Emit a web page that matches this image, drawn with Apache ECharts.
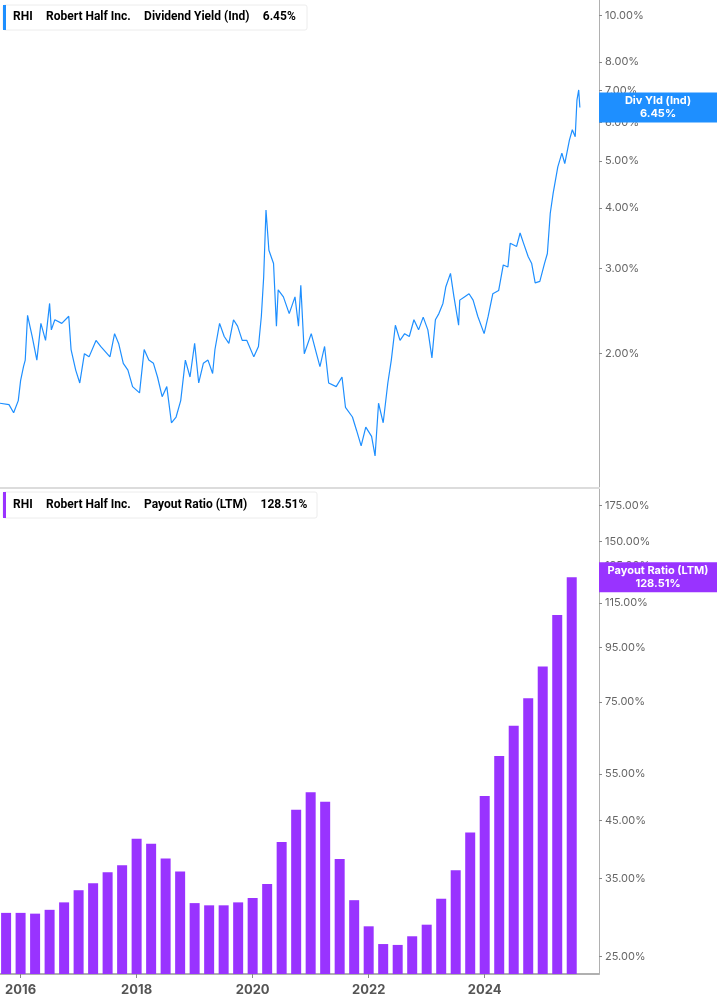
<!DOCTYPE html>
<html lang="en">
<head>
    <meta charset="UTF-8">
    <title>RHI Dividend Yield / Payout Ratio</title>
    <script src="https://cdn.jsdelivr.net/npm/echarts@6.0.0/dist/echarts.min.js"></script>
    <style>
        html, body { margin: 0; padding: 0; background: #fff; }
        #main { width: 717px; height: 1005px; }
    </style>
</head>
<body>
<div id="main"></div>
<script type="text/javascript">
    // dividend yield (%), dates as decimal years
    const yieldDates = [2015.645, 2015.80, 2015.88, 2015.96, 2016.00, 2016.05, 2016.08, 2016.12, 2016.20, 2016.28, 2016.35, 2016.43, 2016.50, 2016.53, 2016.59, 2016.71, 2016.83, 2016.87, 2016.95, 2017.02, 2017.10, 2017.18, 2017.30, 2017.38, 2017.54, 2017.62, 2017.69, 2017.77, 2017.85, 2017.93, 2018.05, 2018.13, 2018.21, 2018.29, 2018.36, 2018.44, 2018.52, 2018.60, 2018.68, 2018.76, 2018.84, 2018.92, 2019.00, 2019.07, 2019.15, 2019.23, 2019.31, 2019.35, 2019.43, 2019.51, 2019.59, 2019.67, 2019.74, 2019.82, 2019.90, 2020.02, 2020.10, 2020.15, 2020.19, 2020.23, 2020.28, 2020.36, 2020.41, 2020.44, 2020.53, 2020.63, 2020.73, 2020.79, 2020.83, 2020.89, 2021.01, 2021.10, 2021.16, 2021.24, 2021.31, 2021.44, 2021.54, 2021.60, 2021.72, 2021.79, 2021.87, 2021.95, 2022.05, 2022.11, 2022.17, 2022.25, 2022.33, 2022.39, 2022.46, 2022.54, 2022.62, 2022.70, 2022.78, 2022.86, 2022.94, 2023.02, 2023.09, 2023.15, 2023.21, 2023.28, 2023.33, 2023.41, 2023.47, 2023.55, 2023.57, 2023.65, 2023.73, 2023.80, 2023.88, 2023.99, 2024.06, 2024.14, 2024.24, 2024.32, 2024.40, 2024.44, 2024.55, 2024.61, 2024.67, 2024.75, 2024.81, 2024.87, 2024.95, 2025.03, 2025.08, 2025.13, 2025.18, 2025.26, 2025.33, 2025.38, 2025.46, 2025.51, 2025.56, 2025.59, 2025.62, 2025.64];
    const yieldValues = [1.58, 1.57, 1.51, 1.60, 1.76, 1.88, 1.94, 2.40, 2.17, 1.94, 2.31, 2.13, 2.54, 2.24, 2.35, 2.31, 2.39, 2.04, 1.85, 1.74, 2.00, 1.97, 2.13, 2.07, 1.97, 2.20, 2.10, 1.91, 1.85, 1.71, 1.66, 2.04, 1.94, 1.91, 1.79, 1.63, 1.71, 1.44, 1.48, 1.60, 1.94, 1.79, 2.10, 1.74, 1.91, 1.94, 1.82, 2.04, 2.31, 2.17, 2.10, 2.35, 2.28, 2.13, 2.13, 1.97, 2.07, 2.39, 2.88, 3.96, 3.27, 3.07, 2.28, 2.71, 2.62, 2.42, 2.62, 2.28, 2.77, 2.00, 2.20, 2.00, 1.88, 2.07, 1.74, 1.71, 1.79, 1.55, 1.48, 1.39, 1.29, 1.41, 1.35, 1.23, 1.58, 1.44, 1.74, 1.94, 2.29, 2.13, 2.20, 2.17, 2.35, 2.24, 2.38, 2.24, 1.96, 2.35, 2.42, 2.54, 2.75, 2.93, 2.62, 2.29, 2.58, 2.62, 2.66, 2.58, 2.39, 2.20, 2.39, 2.66, 2.70, 3.05, 3.02, 3.38, 3.33, 3.55, 3.38, 3.17, 3.07, 2.80, 2.82, 3.07, 3.22, 3.90, 4.29, 4.86, 5.19, 4.94, 5.52, 5.80, 5.61, 6.68, 7.01, 6.45];

    // payout ratio LTM (%), quarterly
    const payoutDates = [2015.75, 2016.00, 2016.25, 2016.50, 2016.75, 2017.00, 2017.25, 2017.50, 2017.75, 2018.00, 2018.25, 2018.50, 2018.75, 2019.00, 2019.25, 2019.50, 2019.75, 2020.00, 2020.25, 2020.50, 2020.75, 2021.00, 2021.25, 2021.50, 2021.75, 2022.00, 2022.25, 2022.50, 2022.75, 2023.00, 2023.25, 2023.50, 2023.75, 2024.00, 2024.25, 2024.50, 2024.75, 2025.00, 2025.25, 2025.50];
    const payoutValues = [30.2, 30.2, 30.1, 30.6, 31.6, 33.3, 34.3, 36.0, 37.1, 41.6, 40.7, 38.2, 36.1, 31.5, 31.2, 31.2, 31.6, 32.2, 34.2, 41.0, 47.1, 50.8, 48.8, 38.1, 31.9, 28.5, 26.4, 26.3, 27.3, 28.7, 32.1, 36.3, 42.7, 50.0, 59.4, 67.7, 76.2, 87.4, 109.2, 128.51];

    const yieldTicks = [2, 3, 4, 5, 6, 7, 8, 10];
    const payoutTicks = [25, 35, 45, 55, 75, 95, 115, 135, 150, 175];
    const yearTicks = [2016, 2018, 2020, 2022, 2024];

    const lg = v => Math.log10(v);
    const pct = v => Math.pow(10, v).toFixed(2) + '%';
    const xMin = 2015.645, xMax = 2025.97;

    let chart = echarts.init(document.getElementById('main'))

    function yAxisFor(idx, ticks, min, max) {
        return {
            type: 'value', gridIndex: idx, position: 'right',
            min: lg(min), max: lg(max),
            axisLine: { show: true, lineStyle: { color: '#b0b0b0' } },
            axisTick: { show: true, length: 3, customValues: ticks.map(lg), lineStyle: { color: '#888' } },
            axisLabel: {
                customValues: ticks.map(lg), formatter: pct, margin: 6,
                color: '#666', fontSize: 11, fontFamily: 'Inter'
            },
            splitLine: { show: false }
        }
    }

    const titleRich = {
        a: { fontWeight: 'bold', color: '#222', fontSize: 12, fontFamily: 'Roboto' }
    }

    chart.setOption({
        animation: false,
        grid: [
            { left: 0, right: 118, top: 0, height: 487 },
            { left: 0, right: 118, top: 489, bottom: 31 }
        ],
        xAxis: [
            { type: 'value', gridIndex: 0, min: xMin, max: xMax, show: false },
            {
                type: 'value', gridIndex: 1, min: xMin, max: xMax,
                axisLine: { show: true, lineStyle: { color: '#b0b0b0', width: 2 } },
                axisTick: { show: true, length: 4, customValues: yearTicks, lineStyle: { color: '#888' } },
                axisLabel: {
                    customValues: yearTicks, formatter: v => String(v),
                    color: '#555', fontSize: 13, fontWeight: 'bold', fontFamily: 'Inter', margin: 10
                },
                splitLine: { show: false }
            }
        ],
        yAxis: [
            yAxisFor(0, yieldTicks, 1.061, 10.75),
            yAxisFor(1, payoutTicks, 23.2, 188)
        ],
        series: [
            {
                type: 'line', xAxisIndex: 0, yAxisIndex: 0, symbol: 'none',
                lineStyle: { color: '#1e8fff', width: 1.2 },
                data: yieldDates.map((d, i) => [d, lg(yieldValues[i])])
            },
            {
                type: 'bar', xAxisIndex: 1, yAxisIndex: 1, barWidth: 10,
                itemStyle: { color: '#9933ff' },
                data: payoutDates.map((d, i) => [d, lg(payoutValues[i])])
            }
        ]
    });

    // value boxes on the right axis, placed from the axis scale
    const yY = chart.convertToPixel({ yAxisIndex: 0 }, lg(6.45));
    const pY = chart.convertToPixel({ yAxisIndex: 1 }, lg(128.51));
    function endBox(y, color, text) {
        return [
            { type: 'rect', z: 10, shape: { x: 599, y: y - 15, width: 118, height: 30 }, style: { fill: color } },
            { type: 'text', z: 11, x: 658, y: y, style: { text: text, fill: '#fff', fontSize: 11, fontWeight: 'bold', fontFamily: 'Inter', align: 'center', verticalAlign: 'middle', lineHeight: 13 } }
        ]
    }
    const graphics = [
        { type: 'line', shape: { x1: 0, y1: 488, x2: 599, y2: 488 }, style: { stroke: '#dcdcdc', lineWidth: 2 } },
        { type: 'rect', shape: { x: 3, y: 5, width: 304, height: 25, r: 2 }, style: { fill: '#fff', stroke: '#ececec' } },
        { type: 'rect', shape: { x: 3, y: 5, width: 3, height: 25 }, style: { fill: '#1e8fff' } },
        { type: 'text', x: 13, y: 11, style: { text: '{a|RHI}    {a|Robert Half Inc.}    {a|Dividend Yield (Ind)}    {a|6.45%}', rich: titleRich } },
        { type: 'rect', shape: { x: 3, y: 492, width: 314, height: 26, r: 2 }, style: { fill: '#fff', stroke: '#ececec' } },
        { type: 'rect', shape: { x: 3, y: 492, width: 3, height: 26 }, style: { fill: '#9933ff' } },
        { type: 'text', x: 13, y: 499, style: { text: '{a|RHI}    {a|Robert Half Inc.}    {a|Payout Ratio (LTM)}    {a|128.51%}', rich: titleRich } }
    ].concat(endBox(yY, '#1e8fff', 'Div Yld (Ind)\n6.45%'), endBox(pY, '#9933ff', 'Payout Ratio (LTM)\n128.51%'))
    chart.setOption({ graphic: graphics });
</script>
</body>
</html>
